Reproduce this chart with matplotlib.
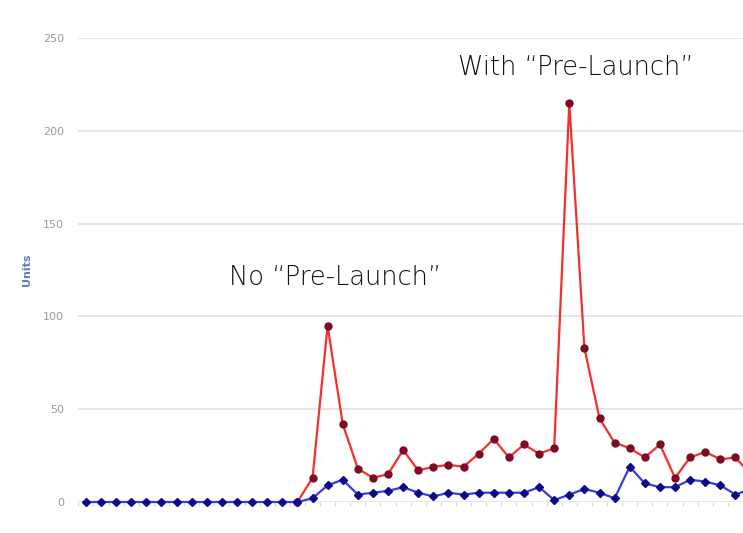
import numpy as np
import matplotlib.pyplot as plt

# weekly unit sales (category index along x)
no_prelaunch = [0] * 15 + [2, 9, 12, 4, 5, 6, 8, 5, 3, 5, 4, 5, 5, 5, 5, 8, 1, 4, 7, 5, 2,
                           19, 10, 8, 8, 12, 11, 9, 4, 7]
with_prelaunch = [np.nan] * 14 + [0, 13, 95, 42, 18, 13, 15, 28, 17, 19, 20, 19, 26, 34, 24,
                                  31, 26, 29, 215, 83, 45, 32, 29, 24, 31, 13, 24, 27, 23, 24, 15]
y_ticks = [0, 50, 100, 150, 200, 250]

x = np.arange(len(no_prelaunch))

fig = plt.figure(figsize=(7.43, 5.33), dpi=100)
ax = fig.add_axes([78 / 743, 1 - 502 / 533, 1 - 78 / 743, (502 - 38) / 533])

ax.plot(x, with_prelaunch, color="#f2312e", lw=1.6, marker="o", ms=5,
        mfc="#7d0a26", mec="#7d0a26", clip_on=False, zorder=3)
ax.plot(x, no_prelaunch, color="#3a3ae0", lw=1.6, marker="D", ms=4.5,
        mfc="#0b0b85", mec="#0b0b85", clip_on=False, zorder=4)

ax.set_xlim(-0.525, 43.08)
ax.set_ylim(0, 250)
ax.set_yticks(y_ticks)
ax.yaxis.grid(True, color="#e2e2e2", lw=1.2)
ax.set_axisbelow(True)
ax.tick_params(axis="y", length=0, pad=10, labelsize=8, labelcolor="#9a9a9a")
ax.set_xticks(np.arange(-0.5, 44, 1))
ax.set_xticklabels([])
ax.tick_params(axis="x", length=3, color="#d8d8d8", width=0.8)
for s in ax.spines.values():
    s.set_visible(False)

ax.set_ylabel("Units", color="#5b82b3", fontsize=8, fontweight="bold", labelpad=8)

ax.text(9.44, 121, "No \u201cPre-Launch\u201d", fontsize=18.5, family="DejaVu Sans",
        weight="light", color="#111111", ha="left", va="center")
ax.text(24.65, 234, "With \u201cPre-Launch\u201d", fontsize=18.5, family="DejaVu Sans",
        weight="light", color="#111111", ha="left", va="center")

fig.savefig("out.png", dpi=100)
